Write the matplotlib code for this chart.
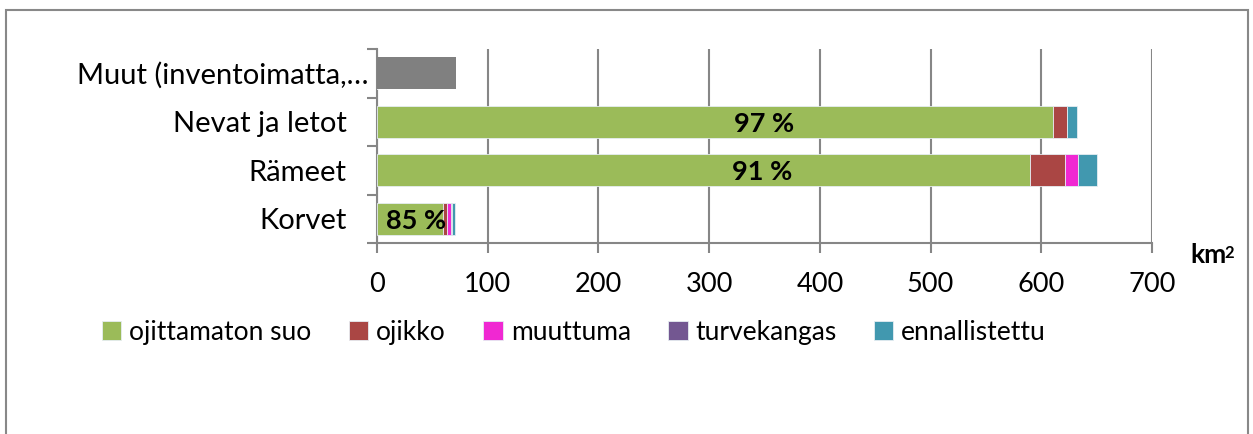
import matplotlib
matplotlib.use("Agg")
import matplotlib.pyplot as plt
import matplotlib.transforms as mtransforms
import numpy as np
from matplotlib.patches import Rectangle

plt.rcParams['font.family'] = ['Lato', 'DejaVu Sans']

categories = ["Korvet", "Rämeet", "Nevat ja letot", "Muut (inventoimatta,…"]
series_names = ["ojittamaton suo", "ojikko", "muuttuma", "turvekangas", "ennallistettu"]
ojittamaton = [60, 590, 611, 0]
ojikko = [3, 31, 12, 0]
muuttuma = [4, 12, 0, 0]
turvekangas = [0.5, 0, 0.5, 0]
ennallistettu = [3, 17, 9, 0]
muut = [0, 0, 0, 71]
pct_labels = ["85 %", "91 %", "97 %"]
pct_x = [35, 348, 350]

colors = ["#9BBB59", "#AA4644", "#F028D2", "#735791", "#4198AF"]
gray = "#808080"
axcol = "#868686"

fig = plt.figure(figsize=(12.53, 4.34), dpi=100)
ax = fig.add_axes([0.3009, 0.44, 0.6185, 0.447])

y = np.arange(len(categories))
h = 0.66
left = np.zeros(len(categories))
for vals, name, c in zip([ojittamaton, ojikko, muuttuma, turvekangas, ennallistettu],
                         series_names, colors):
    ax.barh(y, vals, height=h, left=left, color=c, edgecolor="#E6EDF2",
            linewidth=0.6, label=name, zorder=3)
    left += np.array(vals)
ax.barh(y, muut, height=h, color=gray, zorder=3)

for i, (t, xx) in enumerate(zip(pct_labels, pct_x)):
    ax.text(xx, y[i] - 0.04, t, ha="center", va="center", fontsize=19.5,
            fontweight="bold", color="black", zorder=5)

ax.set_xlim(0, 700)
ax.set_ylim(-0.5, len(categories) - 0.5)
ax.set_xticks(np.arange(0, 701, 100))
ax.tick_params(axis="x", labelsize=19.5, length=7, width=1.5, color=axcol, pad=14)
ax.set_yticks(y)
ax.set_yticklabels(categories, fontsize=21)
ax.tick_params(axis="y", length=0, pad=22)
ax.set_yticks(np.arange(-0.5, len(categories), 1), minor=True)
ax.tick_params(axis="y", which="minor", length=7, width=1.5, color=axcol)
ax.grid(axis="x", color=axcol, linewidth=1.5, zorder=0)
for s in ["top", "right"]:
    ax.spines[s].set_visible(False)
for s in ["left", "bottom"]:
    ax.spines[s].set_color(axcol)
    ax.spines[s].set_linewidth(1.5)

# the truncated label sits closer to the axis
lab = ax.get_yticklabels()[-1]
lab.set_transform(lab.get_transform() + mtransforms.ScaledTranslation(22 / 100, 0, fig.dpi_scale_trans))

fig.text(0.9497, 0.394, "km", fontsize=19, fontweight="bold", ha="left", va="baseline")
fig.text(0.9775, 0.4055, "2", fontsize=12, fontweight="bold", ha="left", va="baseline")

handles, labels = ax.get_legend_handles_labels()
fig.legend(handles, labels, loc="center", bbox_to_anchor=(0.458, 0.235), ncol=5,
           frameon=False, fontsize=19, handlelength=0.75, handleheight=0.75,
           handletextpad=0.3, columnspacing=1.4)

fig.patches.append(Rectangle((0.005, -0.1), 0.991, 1.078, transform=fig.transFigure,
                             fill=False, edgecolor="#888888", linewidth=1.5))

fig.savefig("out.png", dpi=100)
